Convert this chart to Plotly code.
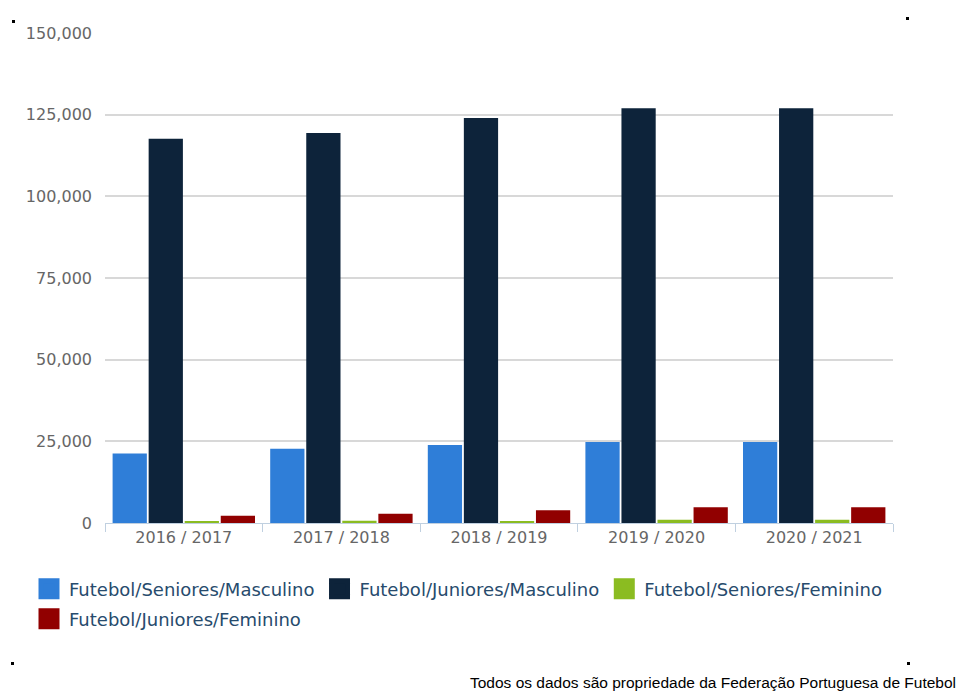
import plotly.graph_objects as go

categories = ["2016 / 2017", "2017 / 2018", "2018 / 2019", "2019 / 2020", "2020 / 2021"]
series_names = [
    "Futebol/Seniores/Masculino",
    "Futebol/Juniores/Masculino",
    "Futebol/Seniores/Feminino",
    "Futebol/Juniores/Feminino",
]
seniores_masculino = [21300, 22700, 23900, 24800, 24800]
juniores_masculino = [117600, 119400, 124000, 127000, 127000]
seniores_feminino = [600, 700, 600, 1000, 1000]
juniores_feminino = [2200, 2800, 3900, 4800, 4800]
colors = ["#2f7ed8", "#0d233a", "#8bbc21", "#910000"]
tick_vals = [0, 25000, 50000, 75000, 100000, 125000, 150000]
footer = "Todos os dados são propriedade da Federação Portuguesa de Futebol"

W, H = 960, 692
L, R, T, B = 105, 893, 33, 523

fig = go.Figure()
all_vals = [seniores_masculino, juniores_masculino, seniores_feminino, juniores_feminino]
for i, (name, vals, c) in enumerate(zip(series_names, all_vals, colors)):
    fig.add_trace(go.Bar(x=categories, y=vals, name=name, showlegend=False,
                         marker=dict(color=c, line=dict(width=0))))
# legend entries (square symbols like the reference)
for i, (name, c) in enumerate(zip(series_names, colors)):
    fig.add_trace(go.Scatter(x=[None], y=[None], mode="markers", name=name,
                             marker=dict(symbol="square", size=17, color=c,
                                         line=dict(width=5, color=c)),
                             legend="legend" if i < 3 else "legend2"))

def px(x):
    return (x - L) / (R - L)

def py(y):
    return (B - y) / (B - T)

shapes = []
for (x0, y0) in [(12, 20), (906, 17), (11, 662), (907, 662)]:
    shapes.append(dict(type="rect", xref="paper", yref="paper",
                       x0=px(x0), x1=px(x0 + 3), y0=py(y0 + 3), y1=py(y0),
                       fillcolor="black", line=dict(width=0)))

legend_common = dict(
    orientation="h", xref="paper", yref="paper",
    xanchor="left", yanchor="middle",
    font=dict(size=18, color="#274b6d"), traceorder="normal",
    itemsizing="trace", bgcolor="rgba(0,0,0,0)",
)

fig.update_layout(
    width=W, height=H,
    margin=dict(l=L, r=W - R, t=T, b=H - B, autoexpand=False),
    paper_bgcolor="white", plot_bgcolor="white",
    barmode="group", bargap=0.085, bargroupgap=0.05,
    font=dict(family="DejaVu Sans", color="#666666"),
    xaxis=dict(
        showgrid=False, showline=True, linecolor="#c0d0e0", linewidth=1,
        ticks="outside", tickson="boundaries", ticklen=8, tickcolor="#c0d0e0",
        tickfont=dict(size=16, color="#666666"),
    ),
    yaxis=dict(
        range=[0, 150000], tickvals=tick_vals, tickformat=",d",
        showgrid=True, gridcolor="#d8d8d8", gridwidth=1.5,
        zeroline=False, showline=False, ticks="", ticklabelstandoff=12,
        tickfont=dict(size=16, color="#666666"),
    ),
    legend=dict(legend_common, x=px(29), y=py(589)),
    legend2=dict(legend_common, x=px(29), y=py(619)),
    shapes=shapes,
    annotations=[dict(
        text=footer, xref="paper", yref="paper",
        x=px(958), y=py(682), xanchor="right", yanchor="middle",
        showarrow=False, font=dict(family="Liberation Sans", size=15.5, color="black"),
    )],
)

fig.write_html("out.html")
